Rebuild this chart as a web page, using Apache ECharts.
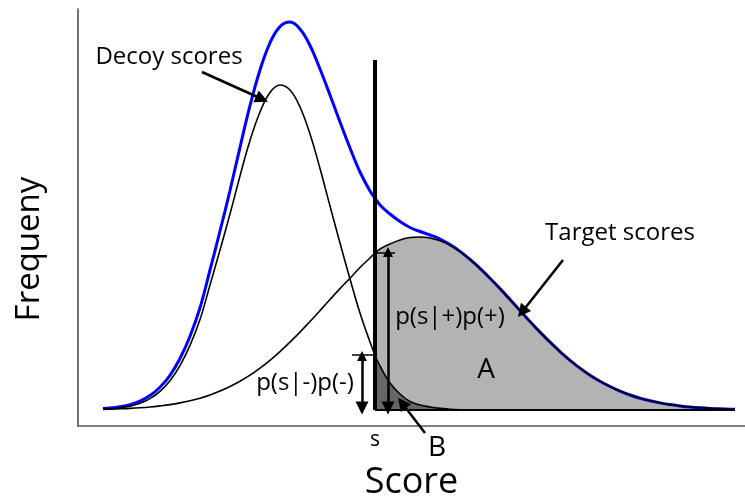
<!DOCTYPE html>
<html>
<head>
<meta charset="utf-8">
<script src="https://cdn.jsdelivr.net/npm/echarts@6/dist/echarts.min.js"></script>
<style>
html,body{margin:0;padding:0;background:#fff;}
#chart{width:745px;height:499px;}
</style>
</head>
<body>
<div id="chart"></div>
<script>
// Score positions (arbitrary score units)
const scores = [10.3,11,12,13,14,15,16,17,18,19,20,21,22,23,24,25,26,27,28,29,30,31,32,33,34,35,36,37,37.5,
  38,39,40,41,42,43,44,45,46,47,48,49,50,51,52,53,54,55,56,57,58,59,60,61,62,63,64,65,66,67,68,69,70,71,72,73,73.5];
// Decoy score frequency p(s|-)p(-)
const decoy = [0.8,1.1,2.1,3.8,6.7,11.4,18.7,29.3,44.4,64.6,90.4,125,160,196,234,269.5,298,317.5,325,320,303,276,241.5,204,167,131,97,68,55,
  44,27,16,8.5,5,3,1.6,0.8,0.3,0,0,0,0,0,0,0,0,0,0,0,0,0,0,0,0,0,0,0,0,0,0,0,0,0,0,0,0];
// Target score frequency p(s|+)p(+)
const target = [0.6,0.8,1.2,1.6,2.2,3,4.1,5.4,7.1,9.2,11.8,15,18.9,23.5,28.7,34.8,41.9,49.7,58.4,67.9,77.9,88.5,99.4,110.5,121.4,131.8,142.5,152,157,
  161,166,170,172.5,173,172,169.2,164.6,158.3,150.6,141.7,131.8,121.4,110.5,99.4,88.5,77.9,67.9,58.4,49.7,41.9,34.8,28.7,23.5,18.9,15,11.8,9.2,7.1,5.4,4.1,3,2.2,1.6,1.2,0.8,0.7];
// Overall score frequency (blue)
const total = [1.4,1.9,3.3,5.4,8.9,14.4,22.8,34.7,51.5,73.8,102.2,140,179,219.5,262.7,304.3,340,367.2,383.4,387.9,381,364.5,341,315,288,262,238,219,212,
  205,196,188.5,182.5,178.5,175,171,165.4,158.6,150.6,141.7,131.8,121.4,110.5,99.4,88.5,77.9,67.9,58.4,49.7,41.9,34.8,28.7,23.5,18.9,15,11.8,9.2,7.1,5.4,4.1,3,2.2,1.6,1.2,0.8,0.7];
// Threshold s
const sThreshold = 37.5;
const sLineTop = 350;
const plusArrow = {x: 38.8, top: 157, bottom: 2, tickFrom: 37.5, tickTo: 39.5};
const minusArrow = {x: 36.2, top: 55, bottom: 2, tickFrom: 35.2, tickTo: 37.3};

const pair = (xs, ys) => xs.map((x, i) => [x, ys[i]]);
const after = arr => pair(scores, arr).filter(p => p[0] >= sThreshold);
const FONT = 'Open Sans';

const chart = echarts.init(document.getElementById('chart'), null, {renderer: 'canvas'});
const option = {
  animation: false,
  backgroundColor: '#fff',
  grid: {left: 78, right: 0, top: 9, bottom: 73, containLabel: false, outerBoundsMode: 'none'},
  xAxis: {
    type: 'value', min: 7.8, max: 74.5,
    axisLine: {show: true, onZero: false, lineStyle: {color: '#555', width: 1.5}},
    axisTick: {show: false}, splitLine: {show: false}, axisLabel: {show: false},
    name: 'Score', nameLocation: 'middle', nameGap: 39,
    nameTextStyle: {fontFamily: FONT, fontSize: 36, color: '#000'}
  },
  yAxis: {
    type: 'value', min: -16, max: 401,
    axisLine: {show: true, onZero: false, lineStyle: {color: '#444', width: 1.5}},
    axisTick: {show: false}, splitLine: {show: false}, axisLabel: {show: false}
  },
  series: [
    {type: 'line', name: 'targetFill', data: after(target), smooth: 0.4, symbol: 'none',
     lineStyle: {width: 0}, areaStyle: {color: '#b3b3b3', opacity: 1, origin: 'auto'}, z: 1},
    {type: 'line', name: 'decoyFill', data: after(decoy).filter(p => p[0] <= 48), smooth: 0.4, symbol: 'none',
     lineStyle: {width: 0}, areaStyle: {color: '#666666', opacity: 1, origin: 'auto'}, z: 2},
    {type: 'line', name: 'baseline', data: [[sThreshold, 0], [scores[scores.length - 1], 0]], symbol: 'none',
     lineStyle: {color: '#000', width: 2}, z: 3},
    {type: 'line', name: 'total', data: pair(scores, total), smooth: 0.4, symbol: 'none',
     lineStyle: {color: '#0000ff', width: 3}, z: 4},
    {type: 'line', name: 'decoy', data: pair(scores, decoy), smooth: 0.4, symbol: 'none',
     lineStyle: {color: '#000', width: 1.6}, z: 5},
    {type: 'line', name: 'target', data: pair(scores, target), smooth: 0.4, symbol: 'none',
     lineStyle: {color: '#000', width: 1.6}, z: 5},
    {type: 'line', name: 'sLine', data: [[sThreshold, 0], [sThreshold, sLineTop]], symbol: 'none',
     lineStyle: {color: '#000', width: 4}, z: 6},
    {type: 'lines', coordinateSystem: 'cartesian2d', clip: false, z: 7,
     symbol: ['none', 'none'], lineStyle: {color: '#000', width: 1.5, opacity: 1},
     data: [
       {coords: [[plusArrow.tickFrom, plusArrow.top], [plusArrow.tickTo, plusArrow.top]]},
       {coords: [[minusArrow.tickFrom, minusArrow.top], [minusArrow.tickTo, minusArrow.top]]}
     ]},
    {type: 'lines', coordinateSystem: 'cartesian2d', clip: false, z: 7,
     symbol: ['triangle', 'triangle'], symbolSize: [10, 13], lineStyle: {color: '#000', width: 2.5, opacity: 1},
     data: [
       {coords: [[plusArrow.x, plusArrow.top + 1], [plusArrow.x, plusArrow.bottom]]},
       {coords: [[minusArrow.x, minusArrow.top - 1], [minusArrow.x, minusArrow.bottom]]}
     ]},
    {type: 'lines', coordinateSystem: 'cartesian2d', clip: false, z: 7,
     symbol: ['none', 'triangle'], symbolSize: [10, 13], lineStyle: {color: '#000', width: 2.5, opacity: 1},
     data: [
       {coords: [[20.2, 338], [26.2, 311]]},
       {coords: [[56.3, 150], [52.2, 98]]},
       {coords: [[42.5, -23], [40.2, 7]]}
     ]}
  ]
};
chart.setOption(option);

const labels = [
  {text: 'Decoy scores', at: [16.9, 353], size: 24},
  {text: 'Target scores', at: [62.0, 177], size: 24},
  {text: 'p(s|+)p(+)', at: [45.0, 93], size: 24},
  {text: 'p(s|-)p(-)', at: [30.5, 27], size: 24},
  {text: 'A', at: [48.6, 40], size: 28},
  {text: 'B', at: [43.7, -38], size: 28},
  {text: 's', at: [sThreshold, -30], size: 21}
];
const graphic = labels.map(l => {
  const p = chart.convertToPixel({gridIndex: 0}, l.at);
  return {type: 'text', x: p[0], y: p[1], z: 100,
    style: {text: l.text, fill: '#000', font: l.size + 'px "' + FONT + '"', align: 'center', verticalAlign: 'middle'}};
});
graphic.push({type: 'text', x: 30, y: 249, rotation: Math.PI / 2, z: 100,
  style: {text: 'Frequeny', fill: '#000', font: '33px "' + FONT + '"', align: 'center', verticalAlign: 'middle'}});
chart.setOption({graphic: graphic});
</script>
</body>
</html>
